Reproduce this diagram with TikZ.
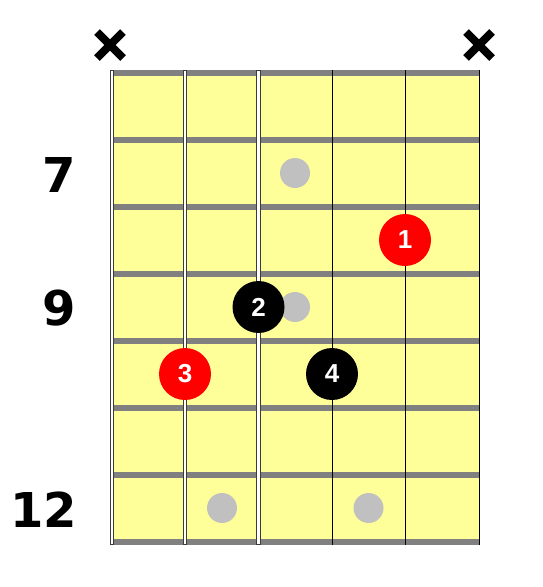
\documentclass[tikz,border=0pt]{standalone}
\usepackage{fontspec}
\setmainfont{Liberation Sans}
\newfontfamily\labfont{DejaVu Sans}
\definecolor{fretyellow}{RGB}{255,255,153}
\definecolor{fretgray}{RGB}{128,128,128}
\definecolor{dotgray}{RGB}{192,192,192}
\definecolor{stredge}{RGB}{60,60,60}
\tikzset{
  fretlabel/.style={anchor=east,inner sep=0pt,font=\labfont\bfseries\fontsize{48}{48}\selectfont},
  finger/.style={circle,minimum size=52pt,inner sep=0pt,text=white,font=\bfseries\fontsize{26}{26}\selectfont},
  redfinger/.style={finger,fill=red},
  blackfinger/.style={finger,fill=black},
  markerdot/.style={circle,minimum size=30pt,inner sep=0pt,fill=dotgray},
  mutex/.style={line width=8pt,black},
  thickstring/.style={line width=4.6pt,stredge},
  thickstringin/.style={line width=2.8pt,white},
  thinstring/.style={line width=1pt,black}
}
\begin{document}
\begin{tikzpicture}[x=1pt,y=-1pt]
\useasboundingbox (0,0) rectangle (542,587);
% board
\fill[fretyellow] (112,72.5) rectangle (479,541.5);
% frets
\foreach \y in {72.5,139.5,206.5,273.5,340.5,407.5,474.5,541.5}
  \fill[fretgray] (112,\y-3) rectangle (479,\y+3);
% strings
\foreach \x in {112,185,258.5}{
  \draw[thickstring] (\x,70) -- (\x,545);
  \draw[thickstringin] (\x,71) -- (\x,544);
}
\foreach \x in {332,405,479}
  \draw[thinstring] (\x,70) -- (\x,545);
% marker dots
\node[markerdot] (d7) at (295,173) {};
\node[markerdot] (d9) at (295,307) {};
\node[markerdot] (d12a) at (222,508) {};
\node[markerdot] (d12b) at (368.5,508) {};
% fingers
\node[redfinger] (f1) at (405,240) {1};
\node[blackfinger] (f2) at (258.5,307) {2};
\node[redfinger] (f3) at (185,374) {3};
\node[blackfinger] (f4) at (332,374) {4};
% fret numbers
\node[fretlabel] (l7) at (76,175) {7};
\node[fretlabel] (l9) at (76,308) {9};
\node[fretlabel] (l12) at (77,510) {12};
% muted strings
\coordinate (m1) at (110,45);
\coordinate (m6) at (479,45);
\foreach \m in {m1,m6}{
  \draw[mutex] ([shift={(-13,-13)}]\m) -- ([shift={(13,13)}]\m);
  \draw[mutex] ([shift={(-13,13)}]\m) -- ([shift={(13,-13)}]\m);
}
\end{tikzpicture}
\end{document}
